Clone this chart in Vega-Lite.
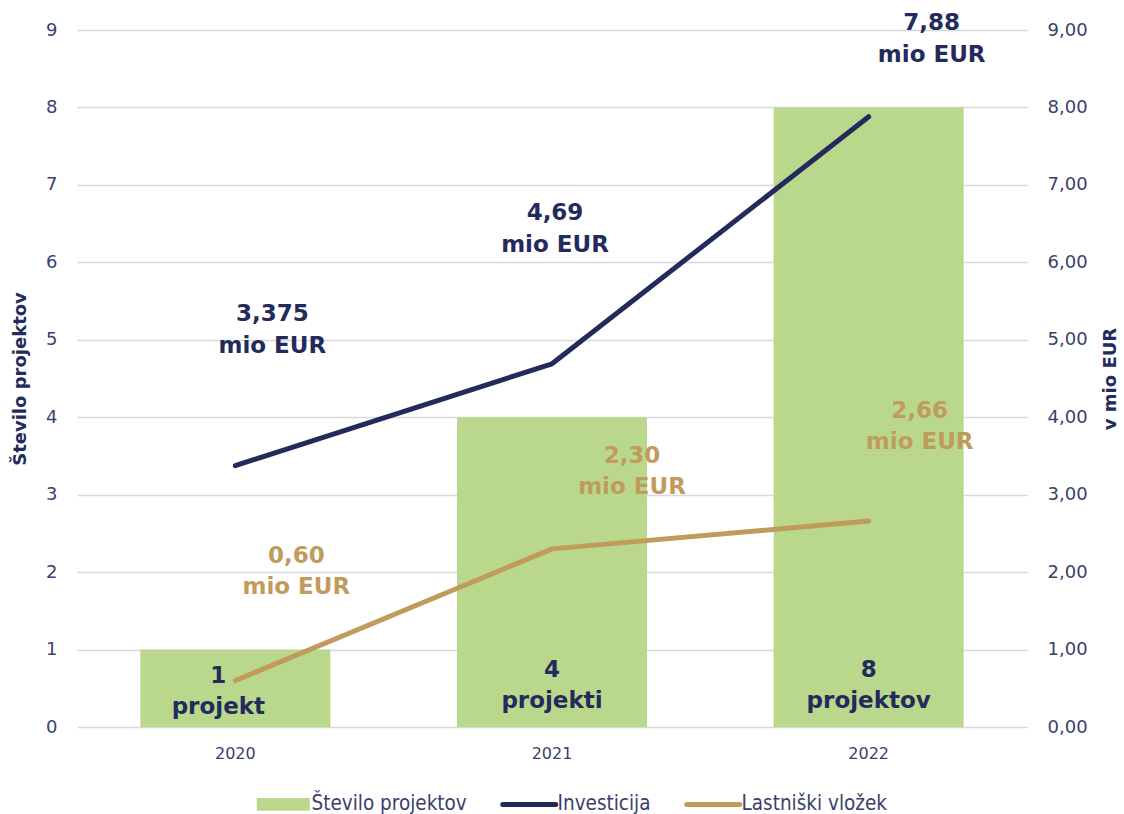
{
  "$schema": "https://vega.github.io/schema/vega-lite/v6.json",
  "width": 950,
  "height": 697,
  "autosize": {"type": "none"},
  "padding": {"left": 77, "top": 30, "right": 97, "bottom": 87},
  "background": "white",
  "config": {"view": {"stroke": null}, "font": "DejaVu Sans"},
  "datasets": {
    "projekti": [
      {"leto": "2020", "stevilo": 1, "oznaka": "1\nprojekt"},
      {"leto": "2021", "stevilo": 4, "oznaka": "4\nprojekti"},
      {"leto": "2022", "stevilo": 8, "oznaka": "8\nprojektov"}
    ],
    "zneski": [
      {"leto": "2020", "serija": "Investicija", "vrednost": 3.375, "oznaka": "3,375\nmio EUR"},
      {"leto": "2021", "serija": "Investicija", "vrednost": 4.69, "oznaka": "4,69\nmio EUR"},
      {"leto": "2022", "serija": "Investicija", "vrednost": 7.88, "oznaka": "7,88\nmio EUR"},
      {"leto": "2020", "serija": "Lastniški vložek", "vrednost": 0.6, "oznaka": "0,60\nmio EUR"},
      {"leto": "2021", "serija": "Lastniški vložek", "vrednost": 2.3, "oznaka": "2,30\nmio EUR"},
      {"leto": "2022", "serija": "Lastniški vložek", "vrednost": 2.66, "oznaka": "2,66\nmio EUR"}
    ]
  },
  "encoding": {
    "x": {
      "field": "leto",
      "type": "nominal",
      "scale": {"paddingInner": 0.4, "paddingOuter": 0.2},
      "axis": {
        "title": null,
        "labelAngle": 0,
        "domain": false,
        "ticks": false,
        "labelPadding": 18,
        "labelFontSize": 16,
        "labelColor": "#3b3f6b",
        "labelFont": "DejaVu Sans"
      }
    }
  },
  "layer": [
    {
      "data": {"name": "projekti"},
      "layer": [
        {
          "mark": {"type": "bar"},
          "encoding": {
            "y": {
              "field": "stevilo",
              "type": "quantitative",
              "scale": {"domain": [0, 9]},
              "axis": {
                "title": "Število projektov",
                "values": [0, 1, 2, 3, 4, 5, 6, 7, 8, 9],
                "format": "d",
                "grid": true,
                "gridColor": "#d9d9d9",
                "gridWidth": 1.5,
                "domain": false,
                "ticks": false,
                "labelPadding": 20,
                "labelFontSize": 18,
                "labelColor": "#3b3f6b",
                "titleFontSize": 18,
                "titleFontWeight": "bold",
                "titleColor": "#232a5c",
                "titlePadding": 16
              }
            },
            "color": {
              "datum": "Število projektov",
              "type": "nominal",
              "scale": {
                "domain": ["Število projektov", "Investicija", "Lastniški vložek"],
                "range": ["#b9d88b", "#232a5c", "#c09b5c"]
              },
              "legend": {
                "orient": "none",
                "legendX": 196,
                "legendY": 764,
                "direction": "horizontal",
                "title": null,
                "labelFont": "DejaVu Sans Condensed",
                "labelFontSize": 20.5,
                "labelColor": "#3b3f6b",
                "symbolSize": 2809,
                "columnPadding": 25,
                "labelOffset": 18,
                "padding": 0,
                "symbolOpacity": 1,
                "encode": {
                  "symbols": {
                    "update": {
                      "shape": {"signal": "datum.value === 'Število projektov' ? 'M-1,-0.245H1V0.245H-1Z' : 'M-1,0H1'"},
                      "size": {"value": 2809},
                      "fill": {"signal": "datum.value === 'Število projektov' ? '#b9d88b' : 'transparent'"},
                      "stroke": {"signal": "datum.value === 'Investicija' ? '#232a5c' : datum.value === 'Lastniški vložek' ? '#c09b5c' : '#b9d88b'"},
                      "strokeWidth": {"signal": "datum.value === 'Število projektov' ? 0 : 5"},
                      "strokeCap": {"value": "round"},
                      "opacity": {"value": 1}
                    }
                  }
                }
              }
            }
          }
        },
        {
          "transform": [{"filter": "datum.leto == '2020'"}],
          "mark": {"type": "text", "lineBreak": "\n", "fontWeight": "bold", "fontSize": 23, "color": "#232a5c", "dx": -17, "dy": -51, "baseline": "middle", "lineHeight": 31},
          "encoding": {
            "y": {"datum": 0, "type": "quantitative"},
            "text": {"field": "oznaka"}
          }
        },
        {
          "transform": [{"filter": "datum.leto != '2020'"}],
          "mark": {"type": "text", "lineBreak": "\n", "fontWeight": "bold", "fontSize": 23, "color": "#232a5c", "dx": 0, "dy": -57, "baseline": "middle", "lineHeight": 31},
          "encoding": {
            "y": {"datum": 0, "type": "quantitative"},
            "text": {"field": "oznaka"}
          }
        }
      ]
    },
    {
      "data": {"name": "zneski"},
      "layer": [
        {
          "mark": {"type": "line", "strokeWidth": 5, "strokeCap": "round", "strokeJoin": "round"},
          "encoding": {
            "y": {
              "field": "vrednost",
              "type": "quantitative",
              "scale": {"domain": [0, 9]},
              "axis": {
                "orient": "right",
                "title": "v mio EUR",
                "values": [0, 1, 2, 3, 4, 5, 6, 7, 8, 9],
                "labelExpr": "replace(format(datum.value, '.2f'), '.', ',')",
                "grid": false,
                "domain": false,
                "ticks": false,
                "labelPadding": 20,
                "labelFontSize": 18,
                "labelColor": "#3b3f6b",
                "titleFontSize": 18,
                "titleFontWeight": "bold",
                "titleColor": "#232a5c",
                "titleAngle": -90,
                "titlePadding": 32
              }
            },
            "color": {"field": "serija", "type": "nominal", "legend": null}
          }
        },
        {
          "transform": [{"filter": "datum.leto == '2020' && datum.serija == 'Investicija'"}],
          "mark": {"type": "text", "lineBreak": "\n", "fontWeight": "bold", "fontSize": 23, "color": "#232a5c", "dx": 37, "dy": -152, "baseline": "middle", "lineHeight": 32},
          "encoding": {"y": {"field": "vrednost", "type": "quantitative"}, "text": {"field": "oznaka"}}
        },
        {
          "transform": [{"filter": "datum.leto == '2021' && datum.serija == 'Investicija'"}],
          "mark": {"type": "text", "lineBreak": "\n", "fontWeight": "bold", "fontSize": 23, "color": "#232a5c", "dx": 3, "dy": -151, "baseline": "middle", "lineHeight": 32},
          "encoding": {"y": {"field": "vrednost", "type": "quantitative"}, "text": {"field": "oznaka"}}
        },
        {
          "transform": [{"filter": "datum.leto == '2022' && datum.serija == 'Investicija'"}],
          "mark": {"type": "text", "lineBreak": "\n", "fontWeight": "bold", "fontSize": 23, "color": "#232a5c", "dx": 63, "dy": -94, "baseline": "middle", "lineHeight": 32},
          "encoding": {"y": {"field": "vrednost", "type": "quantitative"}, "text": {"field": "oznaka"}}
        },
        {
          "transform": [{"filter": "datum.leto == '2020' && datum.serija == 'Lastniški vložek'"}],
          "mark": {"type": "text", "lineBreak": "\n", "fontWeight": "bold", "fontSize": 23, "color": "#c09b5c", "dx": 61, "dy": -125, "baseline": "middle", "lineHeight": 31},
          "encoding": {"y": {"field": "vrednost", "type": "quantitative"}, "text": {"field": "oznaka"}}
        },
        {
          "transform": [{"filter": "datum.leto == '2021' && datum.serija == 'Lastniški vložek'"}],
          "mark": {"type": "text", "lineBreak": "\n", "fontWeight": "bold", "fontSize": 23, "color": "#c09b5c", "dx": 80, "dy": -93, "baseline": "middle", "lineHeight": 31},
          "encoding": {"y": {"field": "vrednost", "type": "quantitative"}, "text": {"field": "oznaka"}}
        },
        {
          "transform": [{"filter": "datum.leto == '2022' && datum.serija == 'Lastniški vložek'"}],
          "mark": {"type": "text", "lineBreak": "\n", "fontWeight": "bold", "fontSize": 23, "color": "#c09b5c", "dx": 51, "dy": -110, "baseline": "middle", "lineHeight": 31},
          "encoding": {"y": {"field": "vrednost", "type": "quantitative"}, "text": {"field": "oznaka"}}
        }
      ]
    }
  ],
  "resolve": {"scale": {"y": "independent"}}
}
